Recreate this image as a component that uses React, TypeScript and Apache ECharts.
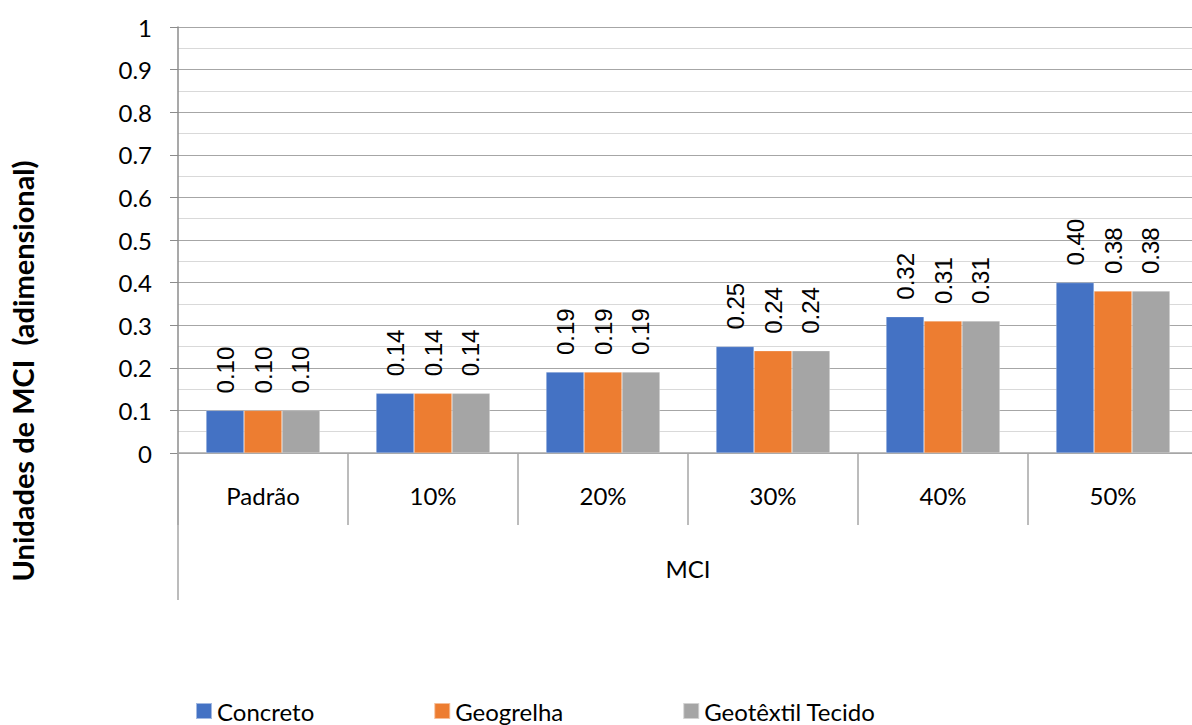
import React, { useEffect, useRef } from "react";
import * as echarts from "echarts";

const categories = ["Padrão", "10%", "20%", "30%", "40%", "50%"];
const concreto = [0.1, 0.14, 0.19, 0.25, 0.32, 0.4];
const geogrelha = [0.1, 0.14, 0.19, 0.24, 0.31, 0.38];
const geotextil = [0.1, 0.14, 0.19, 0.24, 0.31, 0.38];
const seriesNames = ["Concreto", "Geogrelha", "Geotêxtil Tecido"];
const colors = ["#4472C4", "#ED7D31", "#A5A5A5"];
const yTitle = "Unidades de MCI  (adimensional)";
const xTitle = "MCI";

const UI_FONT = "Lato, 'Open Sans', sans-serif";
const LABEL_FONT = "'Liberation Sans', Arial, sans-serif";

export default function App() {
  const ref = useRef<HTMLDivElement>(null);
  useEffect(() => {
    if (!ref.current) return;
    const chart = echarts.init(ref.current, undefined, { renderer: "svg" });
    const values = [concreto, geogrelha, geotextil];
    chart.setOption({
      animation: false,
      backgroundColor: "#ffffff",
      textStyle: { fontFamily: UI_FONT },
      grid: {
        left: 178,
        top: 27,
        width: 1020,
        height: 426,
        containLabel: false,
        outerBoundsMode: "none",
      },
      legend: {
        left: 190,
        top: 693,
        padding: [5, 5, 0, 5],
        itemWidth: 16,
        itemHeight: 16,
        itemGap: 119,
        icon: "rect",
        textStyle: { fontSize: 24, lineHeight: 26, color: "#000", fontFamily: UI_FONT },
        data: seriesNames,
      },
      xAxis: {
        type: "category",
        data: categories,
        name: xTitle,
        nameLocation: "middle",
        nameGap: 103,
        nameTextStyle: { fontSize: 24, color: "#000", fontFamily: UI_FONT },
        axisLine: { show: true, lineStyle: { color: "#a6a6a6", width: 1.5 } },
        axisTick: { show: true, length: 72, alignWithLabel: false, lineStyle: { color: "#a6a6a6", width: 1.5 } },
        axisLabel: { fontSize: 24, color: "#000", margin: 30, fontFamily: UI_FONT },
        splitLine: { show: false },
      },
      yAxis: {
        type: "value",
        min: 0,
        max: 1,
        interval: 0.1,
        axisLine: { show: true, lineStyle: { color: "#8c8c8c", width: 1.5 } },
        axisTick: { show: true, length: 8, inside: false, lineStyle: { color: "#8c8c8c" } },
        axisLabel: {
          fontSize: 24,
          color: "#000",
          margin: 26,
          fontFamily: UI_FONT,
          formatter: (v: number) => (Math.abs(v - Math.round(v)) < 1e-9 ? String(Math.round(v)) : v.toFixed(1)),
        },
        splitLine: { show: true, lineStyle: { color: "#a6a6a6", width: 1 } },
        minorTick: { show: false, splitNumber: 2 },
        minorSplitLine: { show: true, lineStyle: { color: "#d9d9d9", width: 1 } },
      },
      series: seriesNames.map((name, i) => ({
        name,
        type: "bar",
        data: values[i],
        barGap: "0%",
        barCategoryGap: "33%",
        itemStyle: { color: colors[i], borderColor: "rgba(255,255,255,0.5)", borderWidth: 0.5 },
        label: {
          show: true,
          position: "top",
          rotate: 90,
          align: "left",
          verticalAlign: "middle",
          distance: 17,
          fontSize: 24,
          color: "#000",
          fontFamily: LABEL_FONT,
          formatter: (p: any) => Number(p.value).toFixed(2),
        },
      })),
      graphic: [
        {
          type: "line",
          shape: { x1: 178, y1: 453, x2: 178, y2: 600 },
          style: { stroke: "#a6a6a6", lineWidth: 1.5 },
        },
        {
          type: "text",
          x: 22,
          y: 371,
          rotation: Math.PI / 2,
          style: {
            text: yTitle,
            font: `bold 29px ${UI_FONT}`,
            fill: "#000",
            align: "center",
            verticalAlign: "middle",
          },
        },
      ],
    });
    return () => chart.dispose();
  }, []);
  return (
    <div
      ref={ref}
      style={{ position: "absolute", left: 0, top: 0, width: 1192, height: 725 }}
    />
  );
}
